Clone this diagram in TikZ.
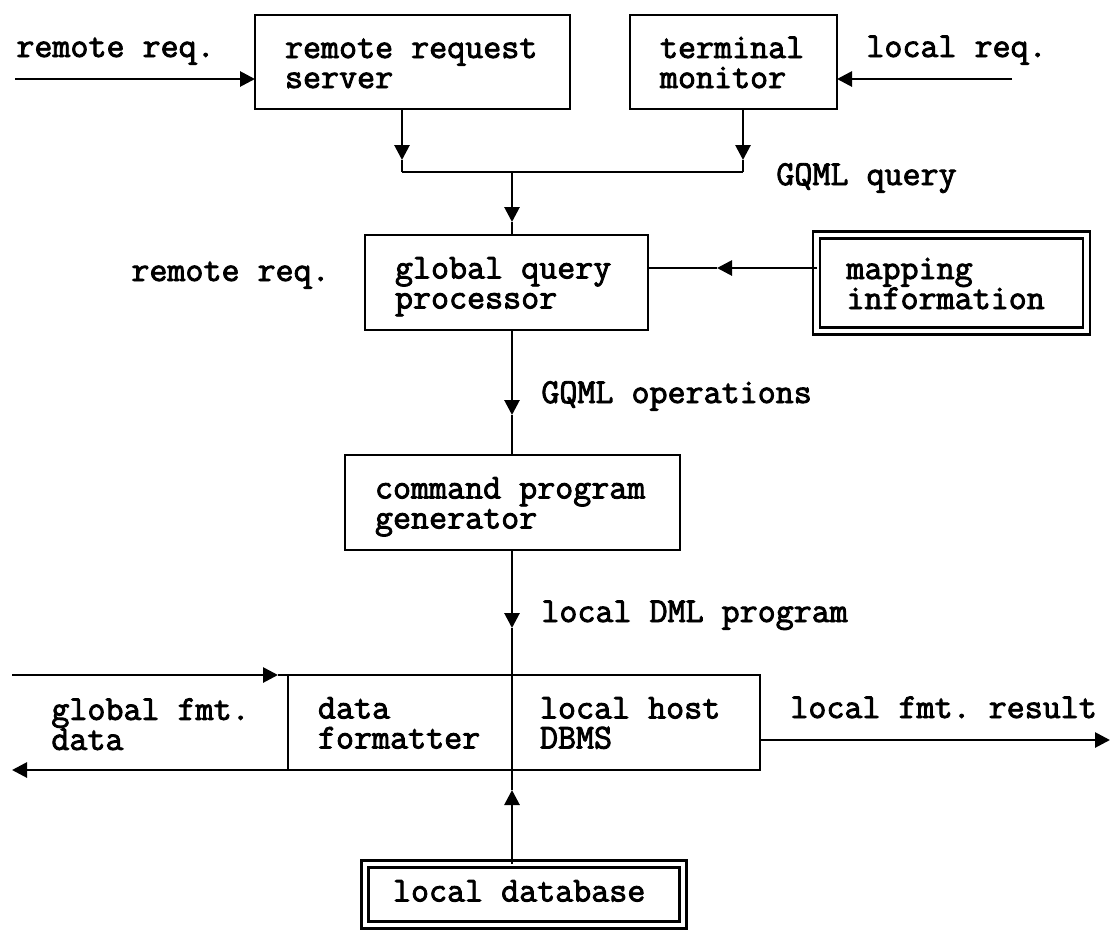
\documentclass[tikz,border=0pt]{standalone}
\usepackage{fontspec}
\newfontfamily\tyf{Latin Modern Mono}[FakeBold=2.5]
\usetikzlibrary{arrows.meta}
\newcommand\fixsp{\spaceskip 0pt\relax\xspaceskip 0pt\relax}
\frenchspacing
\begin{document}
\begin{tikzpicture}[x=1pt,y=-1pt,line width=2.8pt,
  txt/.style={font=\tyf\fontsize{35}{30}\selectfont\frenchspacing},
  box/.style={txt,draw,rectangle,anchor=north west,align=left,outer sep=0pt,
    inner xsep=30pt,inner ysep=0pt,text height=26pt,text depth=34pt,
    execute at begin node=\fixsp},
  dbox/.style={box,double,double distance=4.2pt},
  lbl/.style={txt,anchor=base west,inner sep=0pt},
  rowlabel/.style={txt,anchor=north west,align=left,inner xsep=0pt,inner ysep=0pt,
    text height=26pt,text depth=34pt,minimum height=95pt,text width=210pt,
    execute at begin node=\fixsp},
  arr/.style={-{Triangle[length=15pt,width=15pt]}}]
\useasboundingbox (0,0) rectangle (1114,930);

% boxes
\node[box,minimum width=315pt,minimum height=94pt,text width=255pt] (rrs) at (255,15) {\mbox{remote request}\\\mbox{server}};
\node[box,minimum width=207pt,minimum height=94pt,text width=147pt] (tm) at (630,15) {\mbox{terminal}\\\mbox{monitor}};
\node[box,minimum width=283pt,minimum height=95pt,text width=223pt] (gqp) at (365,235) {\mbox{global query}\\\mbox{processor}};
\node[dbox,minimum width=270pt,minimum height=96pt,text width=210pt] (map) at (816.5,235) {\mbox{mapping}\\\mbox{information}};
\node[box,minimum width=335pt,minimum height=95pt,text width=275pt] (cpg) at (345,455) {\mbox{command program}\\\mbox{generator}};
\node[box,minimum width=224pt,minimum height=95pt,text width=164pt] (df) at (288,675) {\mbox{data}\\\mbox{formatter}};
\node[box,inner xsep=28pt,minimum width=248pt,minimum height=95pt,text width=192pt] (lhd) at (512,675) {\mbox{local host}\\\mbox{DBMS}};
\node[dbox,inner xsep=28pt,minimum width=318pt,minimum height=61pt,text width=262pt,
  text height=22pt,text depth=8pt] (db) at (365,864) {\mbox{local database}};

% labels
\node[lbl] (lrr) at (15,57) {remote req.};
\node[lbl] (llr) at (865,57) {local req.};
\node[lbl] (lgq) at (775,185) {GQML query};
\node[lbl] (lrr2) at (130,281) {remote req.};
\node[lbl] (lgo) at (540,403) {GQML operations};
\node[lbl] (ldml) at (540,622) {local DML program};
\node[rowlabel] (lgf) at (50,675) {\mbox{global fmt.}\\\mbox{data}};
\node[lbl] (llf) at (789,718) {local fmt. result};

% coordinates
\coordinate (rrin) at (15,79);
\coordinate (lrin) at (1012,79);
\coordinate (j1) at (402,172);
\coordinate (j2) at (743,172);
\coordinate (jc) at (512,172);
\coordinate (t1) at (402,160);
\coordinate (t2) at (743,160);
\coordinate (tc) at (512,222);
\coordinate (m) at (717,268);
\coordinate (tgo) at (512,415);
\coordinate (tdml) at (512,628);
\coordinate (gin) at (12,675);
\coordinate (tgin) at (278,675);
\coordinate (gout) at (12,770);
\coordinate (rout) at (1110,740);
\coordinate (tdb) at (512,790);

% connectors
\draw[arr] (rrin) -- (rrs.west |- rrin);
\draw[arr] (lrin) -- (tm.east |- lrin);
\draw[arr] (rrs.south -| j1) -- (t1);
\draw (t1) -- (j1);
\draw[arr] (tm.south -| j2) -- (t2);
\draw (t2) -- (j2);
\draw (j1) -- (j2);
\draw[arr] (jc) -- (tc);
\draw (tc) -- (jc |- gqp.north);
\draw[arr] (map.west |- m) -- (m);
\draw (m) -- (gqp.east |- m);
\draw[arr] (jc |- gqp.south) -- (tgo);
\draw (tgo) -- (jc |- cpg.north);
\draw[arr] (jc |- cpg.south) -- (tdml);
\draw (tdml) -- (jc |- lhd.north);
\draw[arr] (gin) -- (tgin);
\draw (tgin) -- (df.north west);
\draw[arr] (df.south west) -- (gout);
\draw[arr] (lhd.east |- rout) -- (rout);
\draw[arr] (jc |- db.north) -- (tdb);
\draw (tdb) -- (jc |- lhd.south);
\end{tikzpicture}
\end{document}
